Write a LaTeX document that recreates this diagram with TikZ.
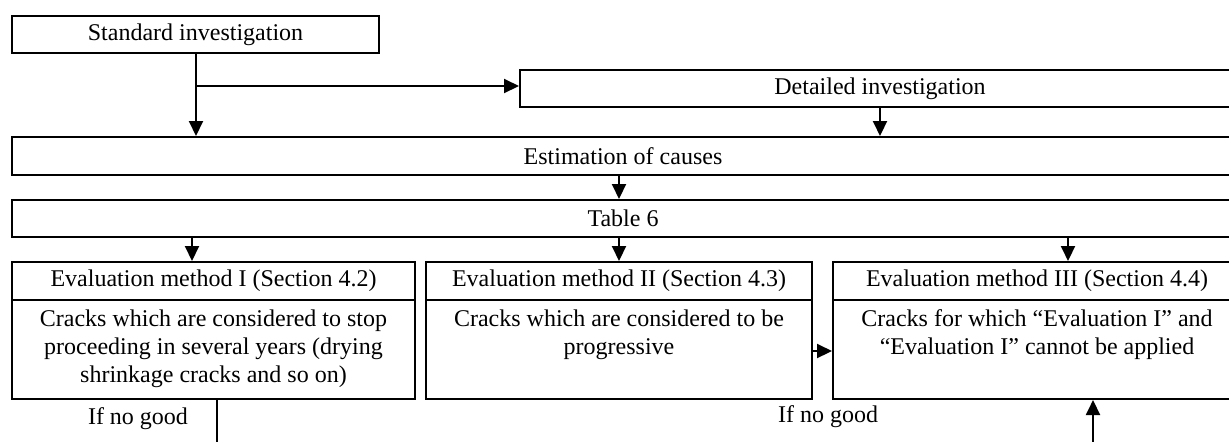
\documentclass[tikz,border=0pt]{standalone}
\usepackage{fontspec}
\setmainfont{Liberation Serif}
\usetikzlibrary{arrows.meta}
\begin{document}
\begin{tikzpicture}[x=0.5pt,y=-0.5pt,
  font=\fontsize{12}{14}\selectfont,
  box/.style={draw, line width=1pt, rectangle, inner sep=0pt, align=center},
  arr/.style={line width=1pt, -{Triangle[length=7.5pt,width=7pt]}},
  conn/.style={line width=1pt},
  btext/.style={anchor=north, align=center, inner sep=0pt}]
\useasboundingbox (0,0) rectangle (1229,441);
\clip (0,0) rectangle (1229,441);
% top boxes
\node[box, minimum width=183.5pt, minimum height=18.5pt] (std) at (195.5,34.5) {Standard investigation};
\node[box, minimum width=360pt, minimum height=18.5pt] (det) at (880,88.5) {Detailed investigation};
\node[box, minimum width=611pt, minimum height=19pt] (est) at (623,156) {Estimation of causes};
\node[box, minimum width=611pt, minimum height=18.5pt] (tab) at (623,218.5) {Table 6};
% evaluation headers
\node[box, minimum width=201.5pt, minimum height=19pt] (h1) at (213.5,281) {Evaluation method I (Section 4.2)};
\node[box, minimum width=193pt, minimum height=19pt] (h2) at (619,281) {Evaluation method II (Section 4.3)};
\node[box, minimum width=204pt, minimum height=19pt] (h3) at (1037,281) {Evaluation method III (Section 4.4)};
% evaluation bodies
\node[box, minimum width=201.5pt, minimum height=49.5pt] (b1) at (213.5,349.5) {};
\node[box, minimum width=193pt, minimum height=49.5pt] (b2) at (619,349.5) {};
\node[box, minimum width=204pt, minimum height=49.5pt] (b3) at (1037,349.5) {};
\node[btext] (t1) at (213.5,309) {Cracks which are considered to stop\\proceeding in several years (drying\\shrinkage cracks and so on)};
\node[btext] (t2) at (619,309) {Cracks which are considered to be\\progressive};
\node[btext] (t3) at (1037,309) {Cracks for which “Evaluation I” and\\“Evaluation I” cannot be applied};
% labels
\node (l1) at (138,419) {If no good};
\node (l2) at (828,417) {If no good};
% helper coordinates
\coordinate (br) at (196,86);
\coordinate (x619) at (619,0);
\coordinate (x192) at (192,0);
\coordinate (x1068) at (1068,0);
\coordinate (y351) at (0,351);
\coordinate (e1) at (217,445);
\coordinate (e3) at (1093,445);
% connectors
\draw[arr] (std.south -| br) -- (br |- est.north);
\draw[arr] (br) -- (br -| det.west);
\draw[arr] (det.south) -- (det.south |- est.north);
\draw[arr] (x619 |- est.south) -- (x619 |- tab.north);
\draw[arr] (x192 |- tab.south) -- (x192 |- h1.north);
\draw[arr] (x619 |- tab.south) -- (x619 |- h2.north);
\draw[arr] (x1068 |- tab.south) -- (x1068 |- h3.north);
\draw[arr] (b2.east |- y351) -- (b3.west |- y351);
\draw[conn] (e1 |- b1.south) -- (e1);
\draw[arr] (e3) -- (e3 |- b3.south);
\end{tikzpicture}
\end{document}
